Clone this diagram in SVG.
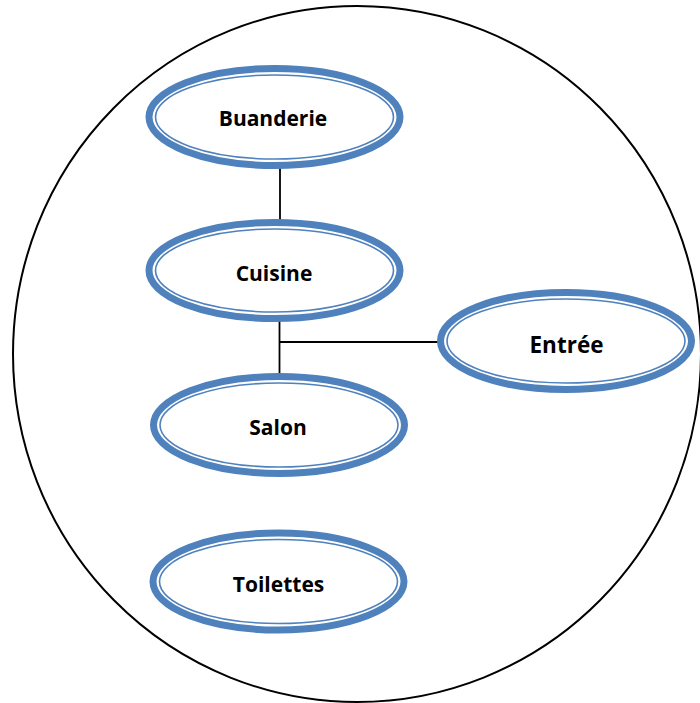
<svg xmlns="http://www.w3.org/2000/svg" width="700" height="703" viewBox="0 0 700 703">
<style>
.outer{fill:none;stroke:#4F81BD;stroke-width:7}
.inner{fill:none;stroke:#4F81BD;stroke-width:1.6}
.lbl{font-family:"Open Sans","Liberation Sans",sans-serif;font-weight:bold;font-size:21px;fill:#000;text-anchor:middle}
.conn{stroke:#000;stroke-width:1.8;fill:none}
</style>
<rect width="700" height="703" fill="#fff"/>
<ellipse id="boundary" cx="357" cy="354" rx="344" ry="348" fill="none" stroke="#000" stroke-width="2"/>
<g id="connectors">
<line class="conn" x1="280" y1="166" x2="280" y2="222"/>
<line class="conn" x1="279.5" y1="318" x2="279.5" y2="378"/>
<line class="conn" x1="279.5" y1="342" x2="441" y2="342"/>
</g>
<g id="buanderie">
<ellipse class="outer" cx="274.5" cy="117" rx="125.5" ry="48.5"/>
<ellipse class="inner" cx="274.5" cy="117" rx="119" ry="42"/>
<text class="lbl" x="273" y="126">Buanderie</text>
</g>
<g id="cuisine">
<ellipse class="outer" cx="274.5" cy="270.5" rx="125.5" ry="48"/>
<ellipse class="inner" cx="274.5" cy="270.5" rx="119" ry="41.5"/>
<text class="lbl" x="274" y="281">Cuisine</text>
</g>
<g id="entree">
<ellipse class="outer" cx="566" cy="341" rx="125.5" ry="48.5"/>
<ellipse class="inner" cx="566" cy="341" rx="119" ry="42"/>
<text class="lbl" x="566.5" y="353" style="font-size:22.5px">Entrée</text>
</g>
<g id="salon">
<ellipse class="outer" cx="279" cy="425" rx="125.5" ry="48.5"/>
<ellipse class="inner" cx="279" cy="425" rx="119" ry="42"/>
<text class="lbl" x="278" y="435">Salon</text>
</g>
<g id="toilettes">
<ellipse class="outer" cx="278.5" cy="581.5" rx="125.5" ry="48.5"/>
<ellipse class="inner" cx="278.5" cy="581.5" rx="119" ry="42"/>
<text class="lbl" x="278.5" y="592">Toilettes</text>
</g>
</svg>
